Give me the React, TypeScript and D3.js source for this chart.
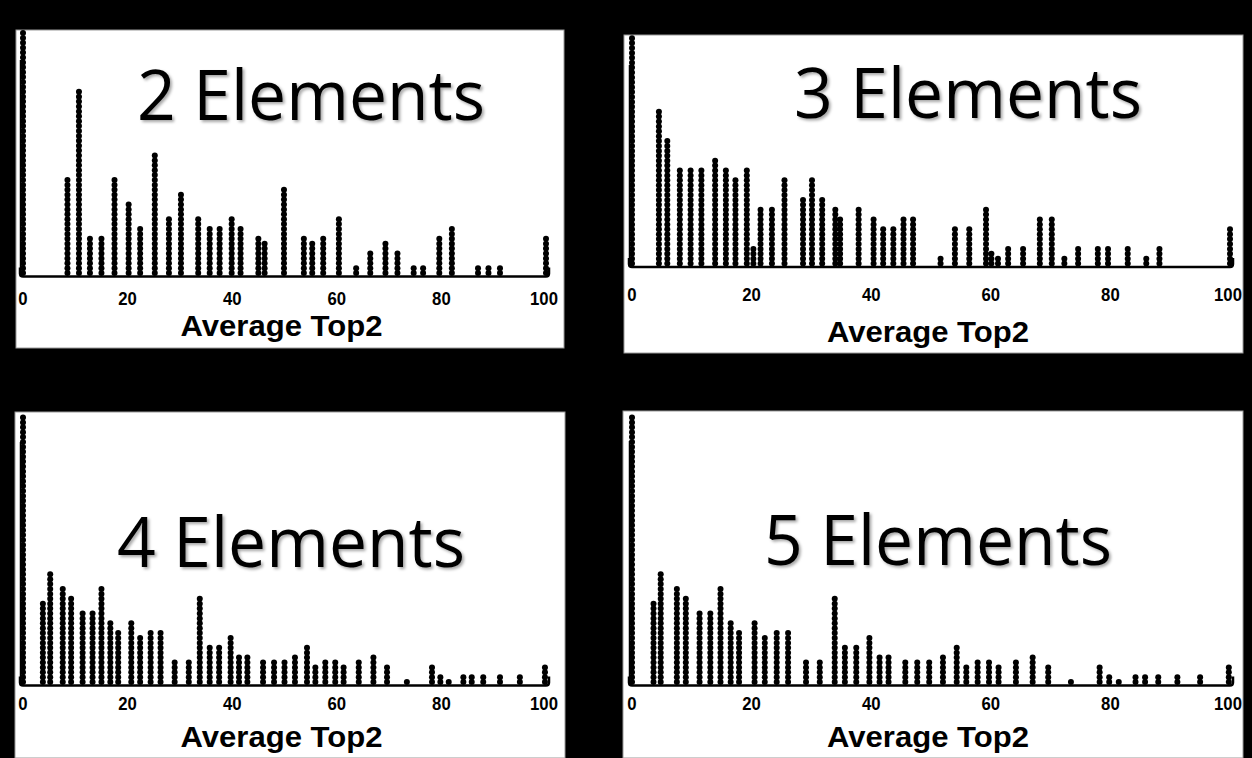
import React from "react";
import * as d3 from "d3";

const W = 1252;
const H = 758;

const titles = ["2 Elements", "3 Elements", "4 Elements", "5 Elements"];
const xTicks = [0, 20, 40, 60, 80, 100];
const axisLabel = "Average Top2";

const values2 = [0, 8.5, 10.7, 12.8, 15, 17.5, 20.2, 22.4, 25.2, 27.9, 30.2, 33.5, 35.7, 37.6, 39.9, 41.6, 45, 46.2, 49.9, 53.7, 55.3, 57.4, 60.4, 63.7, 66.4, 69.3, 71.6, 74.7, 76.5, 79.6, 82, 87, 89, 91.2, 100];
const counts2 = [50, 20, 38, 8, 8, 20, 15, 10, 25, 12, 17, 12, 10, 10, 12, 10, 8, 7, 18, 8, 7, 8, 12, 2, 5, 7, 5, 2, 2, 8, 10, 2, 2, 2, 8];

const values3 = [0, 4.5, 5.9, 8, 9.8, 11.6, 13.9, 15.7, 17.3, 19.2, 20.3, 21.5, 23.4, 25.5, 28.6, 30.1, 31.8, 34, 34.8, 37.9, 40.4, 42, 43.7, 45.4, 47, 51.6, 54, 56.4, 59.2, 60.1, 61.2, 62.9, 65.4, 68.2, 70.2, 72.3, 74.6, 77.9, 79.6, 82.9, 86, 88.2, 100];
const counts3 = [47, 32, 26, 20, 20, 20, 22, 20, 18, 20, 4, 12, 12, 18, 14, 18, 14, 12, 10, 12, 10, 8, 8, 10, 10, 2, 8, 8, 12, 3, 2, 4, 4, 10, 10, 2, 4, 4, 4, 4, 2, 4, 8];

const values4 = [0, 3.8, 5.2, 7.6, 9.2, 11.4, 13.3, 15, 16.7, 18.2, 20.7, 22.4, 24.4, 26.3, 29, 31.7, 33.8, 35.7, 37.5, 39.7, 41.3, 42.9, 45.9, 48, 50, 52, 54.3, 55.9, 57.8, 59.7, 61.3, 64.2, 67, 69.6, 73.4, 78.2, 79.8, 81.4, 84.2, 85.8, 88, 91.2, 95, 99.8];
const counts4 = [55, 17, 23, 20, 18, 15, 15, 20, 13, 11, 13, 10, 11, 11, 5, 5, 18, 8, 8, 10, 6, 6, 5, 5, 5, 6, 8, 4, 5, 5, 4, 5, 6, 4, 1, 4, 2, 1, 2, 2, 2, 2, 2, 4];

const values5 = [0, 3.6, 4.8, 7.5, 9, 11.3, 13.1, 14.8, 16.5, 17.9, 20.5, 22.2, 24.2, 26.1, 29.1, 31.4, 33.9, 35.6, 37.5, 39.7, 41.4, 42.9, 45.7, 47.7, 49.7, 52, 54.3, 55.9, 57.8, 59.7, 61.3, 64.2, 67, 69.6, 73.4, 78.2, 79.8, 81.4, 84.2, 85.8, 88, 91.2, 95, 99.8];
const counts5 = [55, 17, 23, 20, 18, 15, 15, 20, 13, 11, 13, 10, 11, 11, 5, 5, 18, 8, 8, 10, 6, 6, 5, 5, 5, 6, 8, 4, 5, 5, 4, 5, 6, 4, 1, 4, 2, 1, 2, 2, 2, 2, 2, 4];

const SPACING = 4.9;
const R = 3.0;

type Layout = {
  rect: [number, number, number, number];
  x0: number;
  x1: number;
  base: number;
  tickY: number;
  labelY: number;
  titleX: number;
  titleY: number;
};

const layouts: Layout[] = [
  { rect: [16, 30, 548, 318], x0: 23, x1: 546, base: 276.5, tickY: 305, labelY: 336, titleX: 137, titleY: 120 },
  { rect: [624, 35, 619, 318], x0: 632, x1: 1230, base: 267, tickY: 301, labelY: 342, titleX: 794, titleY: 118 },
  { rect: [15, 412, 550, 346], x0: 23, x1: 546, base: 685.5, tickY: 710, labelY: 747, titleX: 117, titleY: 567 },
  { rect: [623, 411, 620, 347], x0: 632, x1: 1230, base: 685.5, tickY: 710, labelY: 747, titleX: 764, titleY: 565 },
];

const series = [
  { values: values2, counts: counts2 },
  { values: values3, counts: counts3 },
  { values: values4, counts: counts4 },
  { values: values5, counts: counts5 },
];

function Panel({ idx }: { idx: number }) {
  const L = layouts[idx];
  const s = series[idx];
  const x = d3.scaleLinear().domain([0, 100]).range([L.x0, L.x1]);
  const y = d3.scaleLinear().domain([0, 1]).range([L.base - 3.4, L.base - 3.4 - SPACING]);
  const dots: { cx: number; cy: number; key: string }[] = [];
  s.values.forEach((v, i) => {
    d3.range(s.counts[i]).forEach((k) => {
      dots.push({ cx: x(v), cy: y(k), key: `${i}-${k}` });
    });
  });
  const [rx, ry, rw, rh] = L.rect;
  const b = L.base;
  const xa = x(0) - 3;
  const xb = x(100) + 3;
  const axisPath = `M${xa},${b - 9} L${xa},${b - 3} Q${xa},${b} ${xa + 3},${b} L${xb - 3},${b} Q${xb},${b} ${xb},${b - 3} L${xb},${b - 9}`;
  const clipId = `clip${idx}`;
  return (
    <g>
      <rect x={rx} y={ry} width={rw} height={rh} fill="#fff" stroke="#9a9a9a" strokeWidth={1} />
      <clipPath id={clipId}>
        <rect x={rx} y={ry} width={rw} height={rh} />
      </clipPath>
      <text
        x={L.titleX}
        y={L.titleY}
        fontFamily="'Open Sans', Lato, sans-serif"
        fontSize={70}
        fill="#000"
        textLength={348}
        lengthAdjust="spacingAndGlyphs"
        filter="url(#shadow)"
      >
        {titles[idx]}
      </text>
      <g clipPath={`url(#${clipId})`}>
        <line x1={x(0) - 2.5} x2={x(0) - 2.5} y1={b} y2={ry + 30} stroke="#000" strokeWidth={1.5} />
        {dots.map((d) => (
          <circle key={d.key} cx={d.cx} cy={d.cy} r={R} fill="#000" />
        ))}
        <path d={axisPath} fill="none" stroke="#000" strokeWidth={2.5} />
      </g>
      {xTicks.map((t) => (
        <text
          key={t}
          transform={`translate(${x(t) - (t === 100 ? 2 : 0)},${L.tickY}) scale(0.88,1)`}
          textAnchor="middle"
          fontFamily="'Liberation Sans', Arial, sans-serif"
          fontWeight="bold"
          fontSize={19}
          fill="#000"
        >
          {t}
        </text>
      ))}
      <text
        x={x(50) - 3}
        y={L.labelY}
        textAnchor="middle"
        fontFamily="'Liberation Sans', Arial, sans-serif"
        fontWeight="bold"
        fontSize={29}
        fill="#000"
        textLength={202}
        lengthAdjust="spacingAndGlyphs"
      >
        {axisLabel}
      </text>
    </g>
  );
}

export default function App() {
  return (
    <div style={{ position: "fixed", left: 0, top: 0, width: W, height: H }}>
      <svg width={W} height={H} viewBox={`0 0 ${W} ${H}`} style={{ display: "block" }}>
        <defs>
          <filter id="shadow" x="-10%" y="-20%" width="120%" height="150%">
            <feDropShadow dx={2} dy={2} stdDeviation={1.5} floodColor="#000" floodOpacity={0.35} />
          </filter>
        </defs>
        <rect x={0} y={0} width={W} height={H} fill="#000" />
        {layouts.map((_, i) => (
          <Panel key={i} idx={i} />
        ))}
      </svg>
    </div>
  );
}
